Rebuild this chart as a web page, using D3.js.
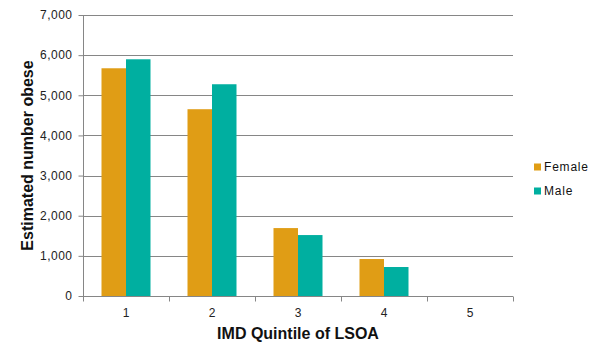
<!DOCTYPE html>
<html>
<head>
<meta charset="utf-8">
<script src="https://cdn.jsdelivr.net/npm/d3@7"></script>
<style>
  body { margin: 0; background: #fff; }
  svg { display: block; font-family: "Liberation Sans", Arial, sans-serif; }
</style>
</head>
<body>
<div id="chart"></div>
<script>
var quintiles = ["1", "2", "3", "4", "5"];
var series = ["Female", "Male"];
var female = [5673, 4653, 1692, 921, 0];
var male = [5897, 5275, 1518, 722, 0];
var yTicks = [0, 1000, 2000, 3000, 4000, 5000, 6000, 7000];
var colors = ["#e09d15", "#00afa0"];

var margin = {top: 15, right: 99, bottom: 63, left: 83};
var width = 612 - margin.left - margin.right,
    height = 359 - margin.top - margin.bottom;

var data = quintiles.map(function(q, i) {
  return {q: q, Female: female[i], Male: male[i]};
});

var svg = d3.select("#chart").append("svg")
  .attr("width", 612)
  .attr("height", 359);

var g = svg.append("g")
  .attr("transform", "translate(" + margin.left + "," + margin.top + ")");

var x = d3.scaleBand().domain(quintiles).range([0, width]).padding(0);
var x1 = d3.scaleBand().domain(series).range([0, x.bandwidth()])
  .paddingInner(0).paddingOuter(0.755);
var y = d3.scaleLinear().domain([0, 7000]).range([height, 0]);
var z = d3.scaleOrdinal().domain(series).range(colors);

// gridlines
g.append("g")
  .selectAll("line")
  .data(yTicks.filter(function(d) { return d > 0; }))
  .enter().append("line")
  .attr("x1", 0)
  .attr("x2", width)
  .attr("y1", function(d) { return Math.round(y(d)) + 0.5; })
  .attr("y2", function(d) { return Math.round(y(d)) + 0.5; })
  .attr("stroke", "#868686")
  .attr("stroke-width", 1);

// bars
g.append("g")
  .selectAll("g")
  .data(data)
  .enter().append("g")
  .attr("transform", function(d) { return "translate(" + x(d.q) + ",0)"; })
  .selectAll("rect")
  .data(function(d) { return series.map(function(k) { return {key: k, value: d[k]}; }); })
  .enter().append("rect")
  .attr("x", function(d) { return x1(d.key); })
  .attr("width", x1.bandwidth())
  .attr("y", function(d) { return y(d.value); })
  .attr("height", function(d) { return height - y(d.value); })
  .attr("fill", function(d) { return z(d.key); });

// y axis
var yAxis = g.append("g")
  .attr("transform", "translate(0.5,0)")
  .call(d3.axisLeft(y).tickValues(yTicks).tickSize(5).tickPadding(6)
    .tickFormat(d3.format(",")));
yAxis.select(".domain").attr("stroke", "#868686").attr("d", "M0," + height + "V0");
yAxis.selectAll(".tick line").attr("stroke", "#868686");
yAxis.selectAll(".tick text")
  .attr("fill", "#222")
  .attr("font-size", 12)
  .attr("letter-spacing", "0.5px");

// x axis
var xAxis = g.append("g")
  .attr("transform", "translate(0," + (height + 0.5) + ")")
  .call(d3.axisBottom(x).tickSize(0).tickPadding(12));
xAxis.select(".domain").remove();
xAxis.append("line")
  .attr("x1", 0).attr("x2", width)
  .attr("stroke", "#868686");
xAxis.selectAll(".tick text")
  .attr("fill", "#222")
  .attr("font-size", 12);
xAxis.append("g")
  .selectAll("line")
  .data(d3.range(quintiles.length + 1))
  .enter().append("line")
  .attr("x1", function(i) { return Math.round(i * x.step()) + 0.5; })
  .attr("x2", function(i) { return Math.round(i * x.step()) + 0.5; })
  .attr("y1", 0)
  .attr("y2", 5)
  .attr("stroke", "#868686");

// axis titles
svg.append("text")
  .attr("x", margin.left + width / 2)
  .attr("y", 339)
  .attr("text-anchor", "middle")
  .attr("font-size", 16)
  .attr("font-weight", "bold")
  .attr("fill", "#111")
  .text("IMD Quintile of LSOA");

svg.append("text")
  .attr("transform", "translate(33," + (margin.top + height / 2) + ") rotate(-90)")
  .attr("text-anchor", "middle")
  .attr("font-size", 16)
  .attr("font-weight", "bold")
  .attr("fill", "#111")
  .text("Estimated number obese");

// legend
var legend = svg.append("g")
  .selectAll("g")
  .data(series)
  .enter().append("g")
  .attr("transform", function(d, i) { return "translate(534," + (167 + i * 24) + ")"; });

legend.append("rect")
  .attr("x", 0)
  .attr("y", -3.5)
  .attr("width", 7)
  .attr("height", 7)
  .attr("fill", z);

legend.append("text")
  .attr("x", 10)
  .attr("dy", "0.35em")
  .attr("font-size", 12)
  .attr("letter-spacing", "0.8px")
  .attr("fill", "#111")
  .text(function(d) { return d; });
</script>
</body>
</html>
